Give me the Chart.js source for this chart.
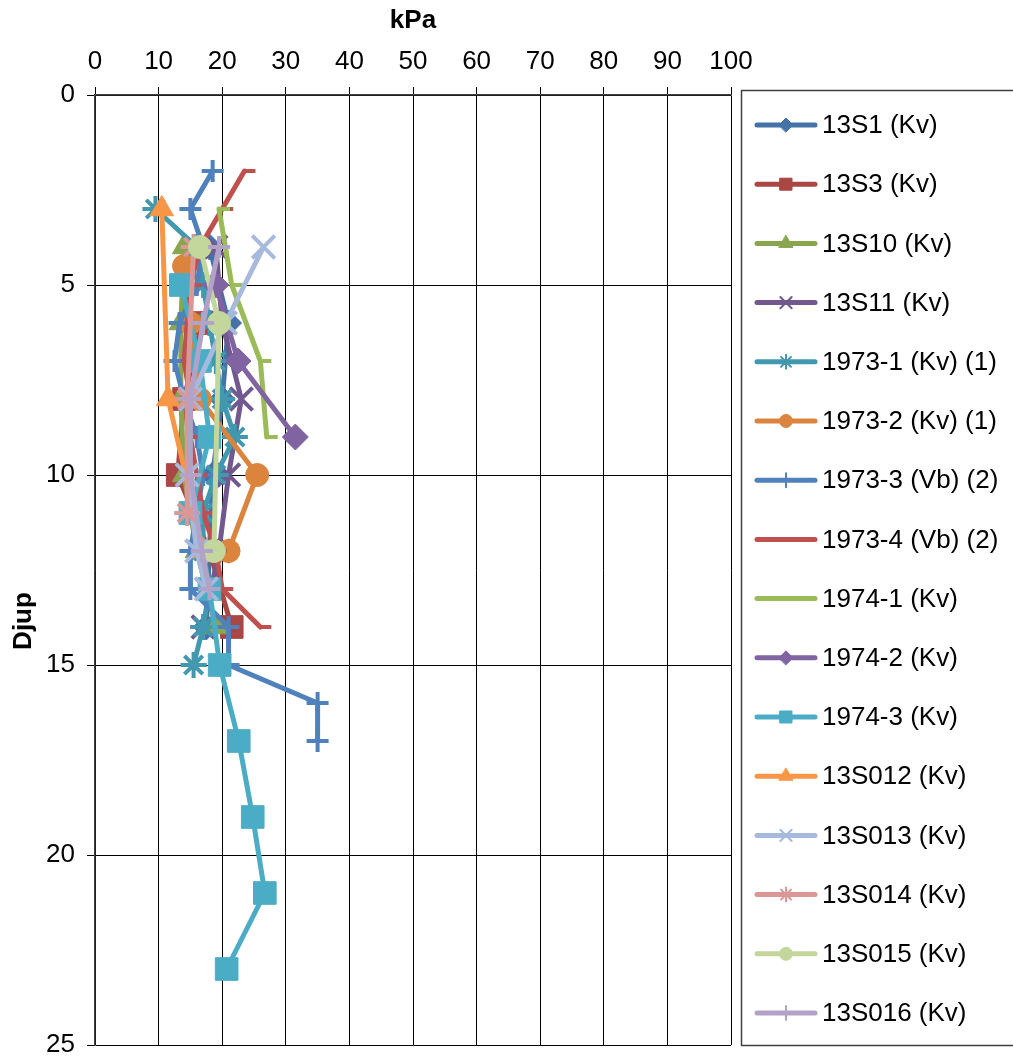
<!DOCTYPE html>
<html><head><meta charset="utf-8">
<script src="https://cdn.jsdelivr.net/npm/chart.js@4/dist/chart.umd.min.js"></script>
<style>html,body{margin:0;padding:0;background:#fff;overflow:hidden}#wrap{width:1013px;height:1057px;position:relative}</style>
</head><body><div id="wrap"><canvas id="c" width="1013" height="1057"></canvas></div>
<script>
// ---- DATA (kPa vs depth "Djup") ----
const xTicks = [0,10,20,30,40,50,60,70,80,90,100];
const yTicks = [0,5,10,15,20,25];
const seriesNames = ["13S1 (Kv)","13S3 (Kv)","13S10 (Kv)","13S11 (Kv)","1973-1 (Kv) (1)","1973-2 (Kv) (1)","1973-3 (Vb) (2)","1973-4 (Vb) (2)","1974-1 (Kv)","1974-2 (Kv)","1974-3 (Kv)","13S012 (Kv)","13S013 (Kv)","13S014 (Kv)","13S015 (Kv)","13S016 (Kv)"];

const depth_13S1 = [4,6,8,10,12,14];
const kpa_13S1   = [18,21,20,18.5,18,17.5];
const depth_13S3 = [6,8,10,12,14];
const kpa_13S3   = [16.8,14,13,18,21.5];
const depth_13S10 = [4,6,8,10,12,14];
const kpa_13S10   = [14,13.5,13.5,14,16,19];
const depth_13S11 = [4,6,8,10,12,14];
const kpa_13S11   = [19,20,23,21,19.5,17];
const depth_1973_1 = [3,4,5,6,7,8,9,10,11,12,13,14,15];
const kpa_1973_1   = [9.5,16,17,18,19,20,22,19,17,17,18,17,15.5];
const depth_1973_2 = [4.5,6,8,10,12];
const kpa_1973_2   = [14,15,16.5,25.5,21];
const depth_1973_3 = [2,3,4,5,6,7,8,9,10,11,12,13,14,15,16,17];
const kpa_1973_3   = [18.5,15,17,16,13.3,12.5,14,16,17,16,15,15,21,21,35,35];
const depth_1973_4 = [2,3,4,5,6,7,8,9,10,11,12,13,14];
const kpa_1973_4   = [23.5,20,16.5,15,14.5,14,15,15,16,17,19,20,26];
const depth_1974_1 = [3,5,7,9];
const kpa_1974_1   = [19.5,21.5,26,27];
const depth_1974_2 = [5,7,9];
const kpa_1974_2   = [19,22.5,31.5];
const depth_1974_3 = [5,7,9,11,13,15,17,19,21,23];
const kpa_1974_3   = [13.5,16.5,18,15,18,19.6,22.6,24.8,26.7,20.7];
const depth_13S012 = [3,8,12];
const kpa_13S012   = [10.5,11.5,17];
const depth_13S013 = [4,6,8,10,12,13];
const kpa_13S013   = [26.5,20.5,15,14.5,16,17.5];
const depth_13S014 = [4,8,11];
const kpa_13S014   = [15.5,14.5,14.5];
const depth_13S015 = [4,6,12];
const kpa_13S015   = [16.5,19.5,18.7];
const depth_13S016 = [4,6,8,10,12,13];
const kpa_13S016   = [19.5,17,15,15,16.8,18];

const depthArrays = [depth_13S1,depth_13S3,depth_13S10,depth_13S11,depth_1973_1,depth_1973_2,depth_1973_3,depth_1973_4,depth_1974_1,depth_1974_2,depth_1974_3,depth_13S012,depth_13S013,depth_13S014,depth_13S015,depth_13S016];
const kpaArrays = [kpa_13S1,kpa_13S3,kpa_13S10,kpa_13S11,kpa_1973_1,kpa_1973_2,kpa_1973_3,kpa_1973_4,kpa_1974_1,kpa_1974_2,kpa_1974_3,kpa_13S012,kpa_13S013,kpa_13S014,kpa_13S015,kpa_13S016];

// ---- STYLES ----
const colors = ["#4572A7","#AA4643","#89A54E","#71588F","#4198AF","#DB843D","#4F81BD","#C0504D","#9BBB59","#8064A2","#4BACC6","#F79646","#A7B9DC","#D99795","#C3D69B","#B3A2C7"];
const styles = ["rectRot","rect","triangle","crossRot","star","circle","cross","dash","dash","rectRot","rect","triangle","crossRot","star","circle","cross"];
const radii  = {rectRot:13, rect:16, triangle:13.5, crossRot:16, star:13, circle:11.5, cross:11, dash:11};
const legRadii = {rectRot:7, rect:8.5, triangle:8, crossRot:8, star:7, circle:6.5, cross:7, dash:0};
const stroked = {crossRot:true, star:true, cross:true, dash:true};
const FONT = "'Liberation Sans', Arial, sans-serif";

const datasets = seriesNames.map((name,i)=>({
  label: name,
  data: depthArrays[i].map((d,j)=>({x:kpaArrays[i][j], y:d})),
  showLine: true,
  borderColor: colors[i],
  backgroundColor: colors[i],
  borderWidth: 5,
  borderCapStyle: 'round',
  borderJoinStyle: 'round',
  tension: 0,
  pointStyle: styles[i],
  pointRadius: radii[styles[i]],
  pointHoverRadius: radii[styles[i]],
  pointBorderWidth: stroked[styles[i]] ? 4 : 1,
  pointBorderColor: colors[i],
  pointBackgroundColor: colors[i],
  order: seriesNames.length - i
}));

const legendPlugin = {
  id: 'customLegend',
  afterDraw(chart){
    const ctx = chart.ctx;
    ctx.save();
    ctx.strokeStyle = '#404040'; ctx.lineWidth = 1.5;
    ctx.strokeRect(741.5, 90.5, 300, 955);
    const y0 = 125, dy = 59.2;
    seriesNames.forEach((name,i)=>{
      const y = y0 + dy*i;
      ctx.strokeStyle = colors[i]; ctx.lineWidth = 5; ctx.lineCap = 'round';
      ctx.beginPath(); ctx.moveTo(757, y); ctx.lineTo(815, y); ctx.stroke();
      const st = styles[i];
      if (legRadii[st] > 0) {
        ctx.fillStyle = colors[i]; ctx.strokeStyle = colors[i];
        ctx.lineWidth = stroked[st] ? 2 : 1;
        Chart.helpers.drawPoint(ctx, {pointStyle: st, rotation: 0, radius: legRadii[st], borderWidth: ctx.lineWidth}, 786, y);
      }
      ctx.fillStyle = '#000'; ctx.font = "26px " + FONT;
      ctx.textBaseline = 'middle'; ctx.textAlign = 'left';
      ctx.fillText(name, 822, y + 1);
    });
    ctx.translate(24, 621); ctx.rotate(-Math.PI/2);
    ctx.font = "bold 26px " + FONT; ctx.fillStyle = '#000';
    ctx.textAlign = 'center'; ctx.textBaseline = 'middle';
    ctx.fillText('Djup', 0, 0);
    ctx.restore();
  }
};

new Chart(document.getElementById('c'), {
  type: 'scatter',
  data: { datasets },
  options: {
    responsive: false, animation: false, devicePixelRatio: 1,
    layout: { autoPadding: false, padding: { left: 0, top: 0, right: 282, bottom: 12 } },
    plugins: { legend: { display: false }, tooltip: { enabled: false } },
    scales: {
      x: {
        type: 'linear', position: 'top', min: 0, max: 100,
        afterBuildTicks: s => { s.ticks = xTicks.map(v=>({value:v})); },
        afterFit: s => { s.height = 95; s.paddingLeft = 0; s.paddingRight = 0; },
        ticks: { font: { size: 26, family: FONT }, color: '#000', padding: 10, maxRotation: 0 },
        grid: { color: '#000', lineWidth: 1, tickLength: 8, drawTicks: true },
        border: { color: '#404040', width: 1.5 },
        title: { display: true, text: 'kPa', font: { size: 26, weight: 'bold', family: FONT }, color: '#000', padding: { top: 5, bottom: 4 } }
      },
      y: {
        type: 'linear', reverse: true, min: 0, max: 25,
        afterBuildTicks: s => { s.ticks = yTicks.map(v=>({value:v})); },
        afterFit: s => { s.width = 95; s.paddingTop = 0; s.paddingBottom = 0; },
        ticks: { font: { size: 26, family: FONT }, color: '#000', padding: 12 },
        grid: { color: '#000', lineWidth: 1, tickLength: 8, drawTicks: true },
        border: { color: '#404040', width: 1.5 }
      }
    }
  },
  plugins: [legendPlugin]
});
</script></body></html>
